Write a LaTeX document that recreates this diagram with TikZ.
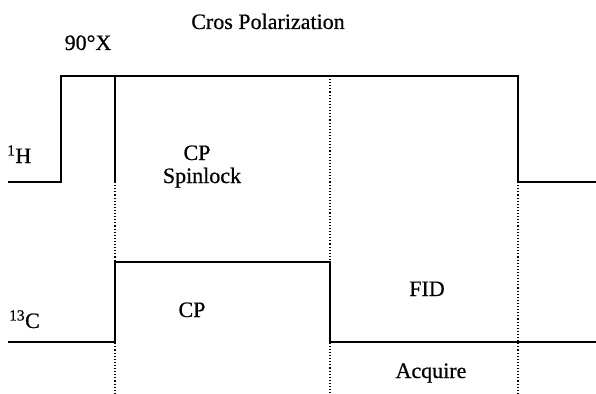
\documentclass[tikz,border=0pt]{standalone}
\usepackage{fontspec}
\setmainfont{Liberation Serif}
\newfontfamily\heavyserif{Liberation Serif}[FakeBold=0.6]
\begin{document}
\begin{tikzpicture}[x=1pt,y=-1pt,
  pulse/.style={line width=1.7pt,line join=miter},
  guide/.style={line width=1.1pt,dotted},
  lbl/.style={anchor=base,inner sep=0pt,font=\heavyserif\fontsize{22}{26}\selectfont}]
\useasboundingbox (0,0) rectangle (596,393);
% 1H channel
\coordinate (h0) at (8,182);
\coordinate (h1) at (61,182);
\coordinate (h2) at (61,76);
\coordinate (h3) at (518,76);
\coordinate (h4) at (518,182);
\coordinate (h5) at (596,182);
\coordinate (p1) at (115,76);
\coordinate (p2) at (115,182);
\draw[pulse] (h0) -- (h1) -- (h2) -- (h3) -- (h4) -- (h5);
\draw[pulse] (p1) -- (p2);
% 13C channel
\coordinate (c0) at (8,342);
\coordinate (c1) at (115,342);
\coordinate (c2) at (115,262);
\coordinate (c3) at (330,262);
\coordinate (c4) at (330,342);
\coordinate (c5) at (596,342);
\draw[pulse] (c0) -- (c1) -- (c2) -- (c3) -- (c4) -- (c5);
% dotted guides
\coordinate (g1) at (115,393);
\coordinate (g2t) at (330,76);
\coordinate (g2) at (330,393);
\coordinate (g3) at (518,393);
\draw[guide] (p2) -- (g1);
\draw[guide] (g2t) -- (g2);
\draw[guide] (h4) -- (g3);
% labels
\node[lbl] (title) at (268,29) {Cros Polarization};
\node[lbl] (ninety) at (88,50) {90°X};
\node[lbl,anchor=base west] (hlab) at (7,163) {\textsuperscript{1}H};
\node[lbl] (cp1) at (197,160) {CP};
\node[lbl] (spin) at (202,183) {Spinlock};
\node[lbl,anchor=base west] (clab) at (9,328) {\textsuperscript{13}C};
\node[lbl] (cp2) at (192,317) {CP};
\node[lbl] (fid) at (427,296) {FID};
\node[lbl] (acq) at (431,378) {Acquire};
\end{tikzpicture}
\end{document}
